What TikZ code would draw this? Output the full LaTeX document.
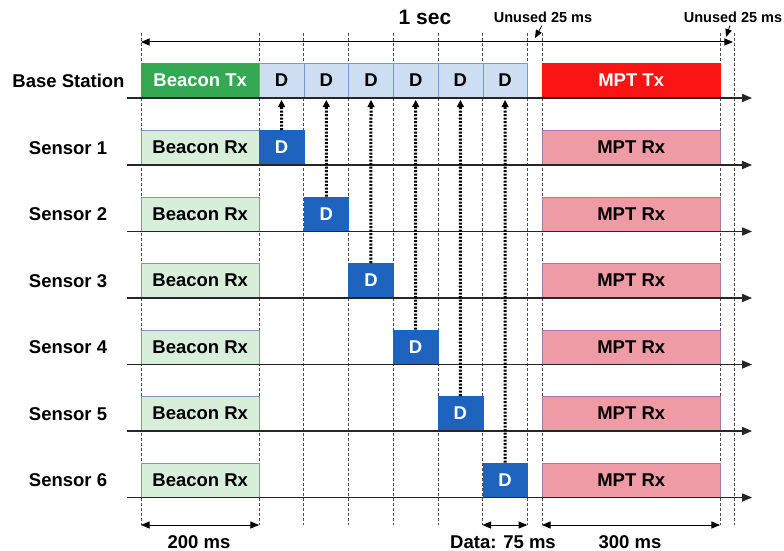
\documentclass[tikz,border=0pt]{standalone}
\usepackage{fontspec}
\setmainfont{Liberation Sans}
\usepackage{tikz}
\usetikzlibrary{arrows,arrows.meta}
\definecolor{beacongreen}{RGB}{52,168,83}
\definecolor{datafill}{RGB}{205,222,242}
\definecolor{databorder}{RGB}{120,150,210}
\definecolor{rxfill}{RGB}{214,238,218}
\definecolor{rxborder}{RGB}{130,150,175}
\definecolor{dblue}{RGB}{30,100,190}
\definecolor{mptred}{RGB}{250,20,20}
\definecolor{mptpink}{RGB}{238,155,165}
\definecolor{pinkborder}{RGB}{170,120,160}
\tikzset{
  slot/.style={draw, anchor=south west, inner sep=0pt, minimum height=34.5pt, font=\bfseries\fontsize{18.5}{20}\selectfont},
  rowlabel/.style={font=\bfseries\fontsize{18.5}{20}\selectfont, inner sep=0pt},
  gridline/.style={densely dashed, line width=0.6pt, color=black!70},
  timeline/.style={->, line width=1.3pt, color=black!85},
  dim/.style={<->, line width=1pt},
  dataline/.style={line width=3pt, dash pattern=on 2pt off 1.5pt, shorten >=6pt},
  datatip/.style={-{Triangle[length=7pt,width=7pt]}, line width=1pt}
}
\begin{document}
\begin{tikzpicture}[x=1pt,y=-1pt,>=triangle 45]
\useasboundingbox (0,0) rectangle (784,551);
\foreach \x in {141,259,303.7,348.4,393.1,437.8,482.5,527.2,542,720,734}
  \draw[gridline] (\x,33) -- (\x,525);
\draw[dim] (141,42) -- (733,42);
\node[rowlabel, font=\bfseries\fontsize{21}{22}\selectfont] (onesec) at (425,17) {1 sec};
\node[rowlabel, font=\bfseries\fontsize{14.5}{16}\selectfont] (unused1) at (543,17) {Unused 25 ms};
\node[rowlabel, font=\bfseries\fontsize{14.5}{16}\selectfont] (unused2) at (733,17) {Unused 25 ms};
\coordinate (gap1) at (535,38);
\coordinate (gap2) at (726,37);
\draw[->, line width=0.8pt] ([xshift=-1pt,yshift=-3pt]unused1.south) -- (gap1);
\draw[->, line width=0.8pt] ([xshift=-3pt,yshift=-3pt]unused2.south) -- (gap2);
\node[rowlabel] (bs) at (68.5,81) {Base Station};
\node[slot, fill=beacongreen, draw=beacongreen, text=white, minimum width=118pt] (btx) at (141,98) {Beacon Tx};
\foreach \i in {1,...,6}
  \node[slot, fill=datafill, draw=databorder, line width=0.5pt, minimum width=44.7pt] (d\i) at ({259+44.7*(\i-1)},98) {D};
\node[slot, fill=mptred, draw=mptred, text=white, minimum width=178pt] (mtx) at (542,98) {MPT Tx};
\draw[timeline] (127,98) -- (752,98);
\foreach \i in {1,...,6}{
  \pgfmathsetmacro\yy{165+66.5*(\i-1)}
  \node[rowlabel] (s\i) at (68,\yy-17) {Sensor \i};
  \node[slot, fill=rxfill, draw=rxborder, line width=0.5pt, minimum width=118pt] (brx\i) at (141,\yy) {Beacon Rx};
  \node[slot, fill=dblue, draw=dblue, text=white, minimum width=44.7pt] (sd\i) at ({259+44.7*(\i-1)},\yy) {D};
  \node[slot, fill=mptpink, draw=pinkborder, line width=0.5pt, minimum width=178pt] (mrx\i) at (542,\yy) {MPT Rx};
  \draw[timeline] (127,\yy) -- (752,\yy);
  \draw[dataline] (sd\i.north) -- ([yshift=-2pt]d\i.south);
  \draw[datatip] ([yshift=-9pt]d\i.south) -- ([yshift=-2pt]d\i.south);
}
\draw[dim] (141,525) -- (259,525);
\draw[dim] (482.5,525) -- (527.2,525);
\draw[dim] (542,525) -- (720,525);
\node[rowlabel] (t200) at (199,542) {200 ms};
\node[rowlabel] (t75) at (503,542) {Data: 75 ms};
\node[rowlabel] (t300) at (630,542) {300 ms};
\end{tikzpicture}
\end{document}
